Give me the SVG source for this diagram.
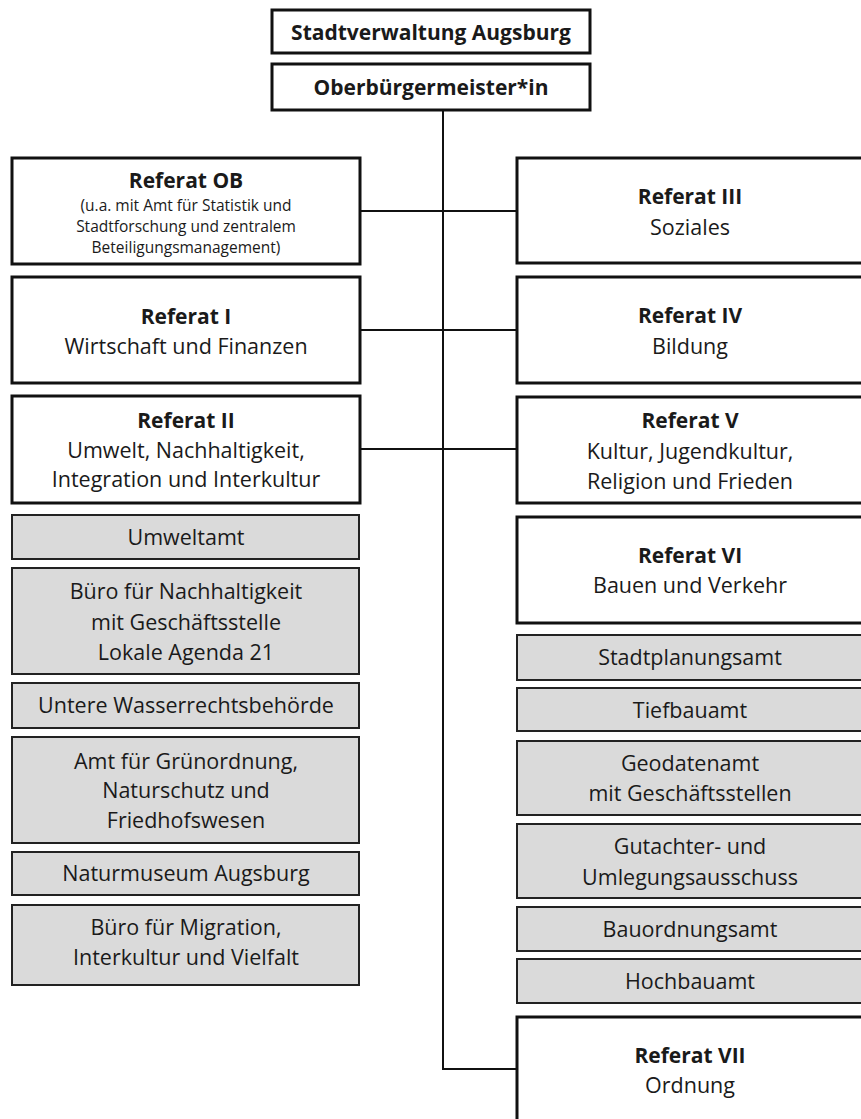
<svg xmlns="http://www.w3.org/2000/svg" width="861" height="1119" viewBox="0 0 861 1119">
<style>
text{font-family:"Open Sans","Liberation Sans",sans-serif;fill:#1a1a1a;text-anchor:middle}
.w{fill:#fff;stroke:#111;stroke-width:3}
.g{fill:#dadada;stroke:#222;stroke-width:2}
.t{font-size:21.5px}
.b{font-size:21px;font-weight:bold}
.s{font-size:15.5px}
.c{fill:none;stroke:#111;stroke-width:2}
</style>
<rect width="861" height="1119" fill="#fff"/>
<g id="connectors">
<path class="c" d="M443,110 V1069 H517"/>
<path class="c" d="M360,211 H517"/>
<path class="c" d="M360,330 H517"/>
<path class="c" d="M360,449 H517"/>
</g>
<g id="stadtverwaltung"><rect class="w" x="272" y="10" width="318" height="43"/><text class="b" x="431" y="40">Stadtverwaltung Augsburg</text></g>
<g id="ob"><rect class="w" x="272" y="64" width="318" height="46"/><text class="b" x="431" y="95">Oberbürgermeister*in</text></g>
<g id="refOB"><rect class="w" x="12" y="158" width="348" height="106"/><text class="b" x="186" y="188">Referat OB</text><text class="s" x="186" y="211">(u.a. mit Amt für Statistik und</text><text class="s" x="186" y="232">Stadtforschung und zentralem</text><text class="s" x="186" y="253">Beteiligungsmanagement)</text></g>
<g id="ref1"><rect class="w" x="12" y="277" width="348" height="106"/><text class="b" x="186" y="324">Referat I</text><text class="t" x="186" y="354">Wirtschaft und Finanzen</text></g>
<g id="ref2"><rect class="w" x="12" y="396" width="348" height="107"/><text class="b" x="186" y="428">Referat II</text><text class="t" x="186" y="458">Umwelt, Nachhaltigkeit,</text><text class="t" x="186" y="487">Integration und Interkultur</text></g>
<g id="umweltamt"><rect class="g" x="12" y="515" width="347" height="44"/><text class="t" x="186" y="545">Umweltamt</text></g>
<g id="nachhaltigkeit"><rect class="g" x="12" y="568" width="347" height="106"/><text class="t" x="186" y="599">Büro für Nachhaltigkeit</text><text class="t" x="186" y="630">mit Geschäftsstelle</text><text class="t" x="186" y="660">Lokale Agenda 21</text></g>
<g id="wasser"><rect class="g" x="12" y="683" width="347" height="45"/><text class="t" x="186" y="713">Untere Wasserrechtsbehörde</text></g>
<g id="gruen"><rect class="g" x="12" y="737" width="347" height="106"/><text class="t" x="186" y="769">Amt für Grünordnung,</text><text class="t" x="186" y="798">Naturschutz und</text><text class="t" x="186" y="828">Friedhofswesen</text></g>
<g id="naturmuseum"><rect class="g" x="12" y="852" width="347" height="43"/><text class="t" x="186" y="881">Naturmuseum Augsburg</text></g>
<g id="migration"><rect class="g" x="12" y="905" width="347" height="80"/><text class="t" x="186" y="935">Büro für Migration,</text><text class="t" x="186" y="965">Interkultur und Vielfalt</text></g>
<g id="ref3"><rect class="w" x="517" y="158" width="346" height="105"/><text class="b" x="690" y="204">Referat III</text><text class="t" x="690" y="235">Soziales</text></g>
<g id="ref4"><rect class="w" x="517" y="277" width="346" height="106"/><text class="b" x="690" y="323">Referat IV</text><text class="t" x="690" y="354">Bildung</text></g>
<g id="ref5"><rect class="w" x="517" y="397" width="346" height="106"/><text class="b" x="690" y="428">Referat V</text><text class="t" x="690" y="459">Kultur, Jugendkultur,</text><text class="t" x="690" y="489">Religion und Frieden</text></g>
<g id="ref6"><rect class="w" x="517" y="517" width="346" height="106"/><text class="b" x="690" y="563">Referat VI</text><text class="t" x="690" y="593">Bauen und Verkehr</text></g>
<g id="stadtplanung"><rect class="g" x="517" y="635" width="346" height="45"/><text class="t" x="690" y="665">Stadtplanungsamt</text></g>
<g id="tiefbau"><rect class="g" x="517" y="688" width="346" height="43"/><text class="t" x="690" y="718">Tiefbauamt</text></g>
<g id="geodaten"><rect class="g" x="517" y="741" width="346" height="74"/><text class="t" x="690" y="771">Geodatenamt</text><text class="t" x="690" y="801">mit Geschäftsstellen</text></g>
<g id="gutachter"><rect class="g" x="517" y="824" width="346" height="74"/><text class="t" x="690" y="854">Gutachter- und</text><text class="t" x="690" y="885">Umlegungsausschuss</text></g>
<g id="bauordnung"><rect class="g" x="517" y="907" width="346" height="44"/><text class="t" x="690" y="937">Bauordnungsamt</text></g>
<g id="hochbau"><rect class="g" x="517" y="959" width="346" height="44"/><text class="t" x="690" y="989">Hochbauamt</text></g>
<g id="ref7"><rect class="w" x="517" y="1017" width="346" height="120"/><text class="b" x="690" y="1063">Referat VII</text><text class="t" x="690" y="1093">Ordnung</text></g>
</svg>
